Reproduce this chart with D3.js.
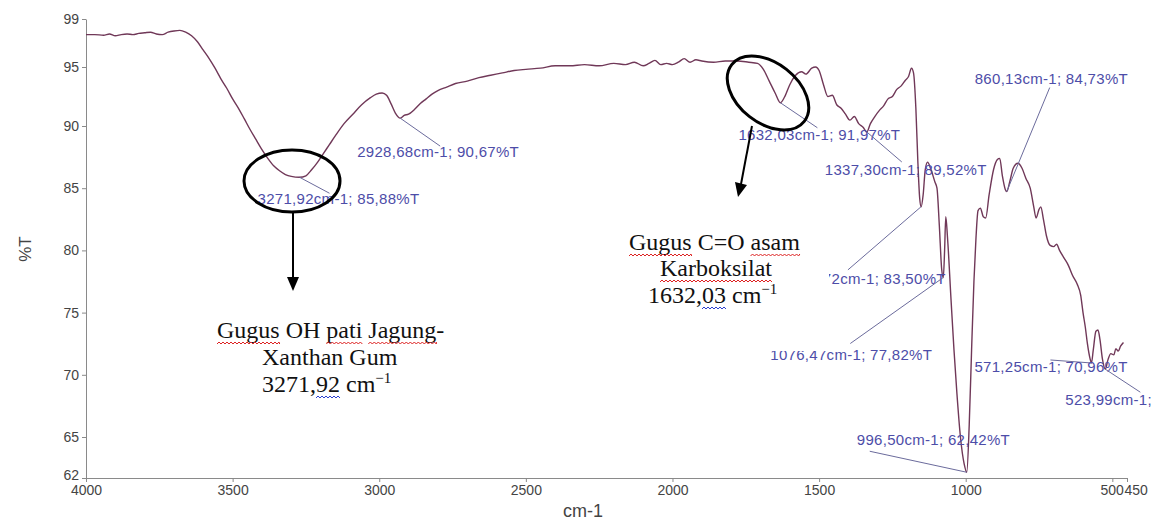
<!DOCTYPE html>
<html>
<head>
<meta charset="utf-8">
<script src="https://cdn.jsdelivr.net/npm/d3@7"></script>
<style>
  body { margin: 0; background: #fff; }
  text { font-family: "Liberation Sans", Arial, sans-serif; }
</style>
</head>
<body>
<div id="chart"></div>
<script>
// spectrum (cm-1, %T)
const wavenumber = [4000,3970,3940,3920,3900,3880,3860,3840,3820,3800,3780,3760,3740,3720,3700,3680,3660,3640,3620,3600,
  3580,3560,3540,3520,3500,3480,3460,3440,3420,3400,3380,3360,3340,3320,3300,3271.92,3250,3230,3210,3190,
  3170,3150,3120,3090,3060,3030,3010,2990,2975,2960,2945,2928.68,2915,2900,2880,2860,2840,2820,2800,2770,
  2740,2700,2660,2620,2580,2540,2500,2450,2400,2350,2300,2250,2200,2160,2130,2100,2080,2060,2040,2020,
  2000,1980,1960,1940,1920,1900,1860,1820,1780,1740,1710,1690,1670,1650,1632.03,1615,1600,1580,1560,1545,
  1525,1512,1500,1485,1470,1455,1440,1425,1410,1395,1380,1365,1350,1337.30,1325,1310,1295,1280,1265,1250,
  1235,1220,1205,1195,1185,1178,1170,1163,1157,1152,1145,1138,1130,1120,1105,1098,1090,1082,1076.47,1072,
  1068,1062,1050,1040,1030,1018,1005,996.50,988,980,972,965,958,950,940,932,920,905,892,884,
  875,865,860.13,850,838,822,808,795,780,768,760,750,744,735,725,712,700,690,680,665,
  650,636,620,608,600,592,585,576,571.25,565,556,549,542,534,523.99,515,505,495,488,480,
  472,462]
const transmittance = [97.7,97.7,97.65,97.75,97.6,97.7,97.75,97.7,97.8,97.85,97.9,97.75,97.7,97.9,98.0,98.05,97.9,97.6,97.1,96.4,
  95.7,94.9,94.0,93.2,92.3,91.5,90.6,89.7,88.9,88.1,87.4,86.8,86.4,86.1,85.95,85.88,86.0,86.5,87.1,87.8,
  88.5,89.2,90.2,91.0,91.8,92.4,92.7,92.8,92.6,91.9,91.1,90.67,90.9,91.0,91.4,91.9,92.3,92.7,93.0,93.3,
  93.6,93.8,94.1,94.3,94.5,94.7,94.8,94.9,95.1,95.1,95.2,95.1,95.3,95.2,95.4,95.1,95.3,95.55,95.2,95.3,
  95.2,95.4,95.7,95.4,95.6,95.5,95.4,95.5,95.5,95.4,95.3,94.8,93.8,92.8,91.97,92.6,93.5,94.3,94.6,94.4,
  94.9,95.0,94.7,93.5,92.5,92.6,91.8,91.5,91.0,90.5,90.8,90.2,89.9,89.52,90.2,90.8,91.3,91.7,92.3,92.5,
  93.1,93.4,93.9,94.2,94.9,94.5,91.5,87.0,84.2,83.5,84.5,86.5,87.1,86.6,85.5,85.0,82.0,78.5,77.82,80.0,
  82.7,81.0,76.0,72.0,68.5,65.0,63.0,62.42,66.0,72.0,77.5,81.0,83.2,83.4,82.7,82.6,84.5,86.5,87.3,87.4,
  86.0,84.9,84.73,85.5,86.6,87.0,86.6,85.8,85.0,83.5,82.6,83.3,83.5,82.5,81.2,80.4,80.3,80.5,80.0,79.4,
  78.8,78.0,77.3,76.4,75.0,73.8,72.5,71.3,70.95,72.0,73.5,73.6,72.8,71.3,70.45,71.2,71.7,71.6,72.1,71.9,
  72.3,72.6]

const xTicks = [4000, 3500, 3000, 2500, 2000, 1500, 1000, 500, 450]
const yTicks = [99, 95, 90, 85, 80, 75, 70, 65, 62]

// peak labels
const peakCm = [3271.92, 2928.68, 1632.03, 1337.30, 1152.72, 1076.47, 996.50, 860.13, 571.25, 523.99]
const peakT = [85.88, 90.67, 91.97, 89.52, 83.50, 77.82, 62.42, 84.73, 70.95, 70.45]
const peakText = ["3271,92cm-1; 85,88%T", "2928,68cm-1; 90,67%T", "1632,03cm-1; 91,97%T", "1337,30cm-1; 89,52%T",
  "1152,72cm-1; 83,50%T", "1076,47cm-1; 77,82%T", "996,50cm-1; 62,42%T", "860,13cm-1; 84,73%T",
  "571,25cm-1; 70,96%T", "523,99cm-1;"]

const W = 1154, H = 522
const svg = d3.select("#chart").append("svg")
  .attr("width", W)
  .attr("height", H)

const x = d3.scaleLinear().domain([4000, 450]).range([86, 1127])
// the printed axis is not quite even, so the scale follows its ticks
const y = d3.scaleLinear().domain([62, 65, 90, 95, 99]).range([478, 437, 126, 67, 19])

// axes
const xAxis = svg.append("g")
  .attr("transform", `translate(0,${y(62)})`)
  .call(d3.axisBottom(x).tickValues(xTicks).tickSize(4).tickSizeOuter(0).tickFormat(d3.format("d")))
const yAxis = svg.append("g")
  .attr("transform", `translate(${x(4000)},0)`)
  .call(d3.axisLeft(y).tickValues(yTicks).tickSize(4).tickSizeOuter(0))
svg.selectAll(".domain, .tick line").attr("stroke", "#8a8a8a")
svg.selectAll(".tick text").attr("fill", "#444").style("font-size", "14px")
xAxis.selectAll(".tick text").filter(d => d === 500).attr("text-anchor", "end").attr("x", 11)
xAxis.selectAll(".tick text").filter(d => d === 450).attr("text-anchor", "start").attr("x", -3)
yAxis.selectAll(".tick text").filter(d => d === 62).attr("y", -3)

svg.append("text")
  .attr("transform", "translate(31,249) rotate(-90)")
  .attr("text-anchor", "middle")
  .attr("fill", "#444")
  .style("font-size", "17px")
  .text("%T")
svg.append("text")
  .attr("x", 583).attr("y", 517)
  .attr("text-anchor", "middle")
  .attr("fill", "#444")
  .style("font-size", "18px")
  .text("cm-1")

// spectrum
const pts = wavenumber.map((w, i) => [w, transmittance[i]])
svg.append("path")
  .datum(pts)
  .attr("fill", "none")
  .attr("stroke", "#703858")
  .attr("stroke-width", 1.4)
  .attr("d", d3.line().x(d => x(d[0])).y(d => y(d[1])).curve(d3.curveMonotoneX))

// label offsets from the peak, px
const labelDx = [-42, -43, -42, -42, -136, -173, -110, -32, -117, -40]
const labelDy = [27, 39, 37, 43, 77, 82, -27, -108, 9, 36]
const lineEnd = [[30, 16], [40, 28], [37, 25], [35, 30], [-73, 63], [-93, 66], [-97, -21], [43, -104], [-41, -3], [35, 23]]
const labels = svg.append("g")
peakCm.forEach((w, i) => {
  const px = x(w), py = y(peakT[i])
  labels.append("line")
    .attr("x1", px).attr("y1", py)
    .attr("x2", px + lineEnd[i][0]).attr("y2", py + lineEnd[i][1])
    .attr("stroke", "#6b6b9c").attr("stroke-width", 1)
  labels.append("text")
    .attr("x", px + labelDx[i]).attr("y", py + labelDy[i])
    .attr("fill", "#4d4da8")
    .style("font-size", "15px")
    .style("letter-spacing", "0.3px")
    .text(peakText[i])
})

// white text box of the C=O callout hides part of two labels
svg.append("rect").attr("x", 600).attr("y", 222).attr("width", 229).attr("height", 129).attr("fill", "#fff")

// circles and arrows
const marks = svg.append("g").attr("fill", "none").attr("stroke", "#000").attr("stroke-width", 3)
marks.append("ellipse").attr("cx", 292).attr("cy", 181).attr("rx", 48).attr("ry", 31)
marks.append("ellipse").attr("cx", 768).attr("cy", 93).attr("rx", 46).attr("ry", 30)
  .attr("transform", "rotate(38,768,93)")
marks.append("line").attr("x1", 293).attr("y1", 212).attr("x2", 293).attr("y2", 278).attr("stroke-width", 2)
marks.append("line").attr("x1", 752).attr("y1", 126).attr("x2", 741).attr("y2", 184).attr("stroke-width", 2)
svg.append("path").attr("d", "M287,277 L299,277 L293,291 Z").attr("fill", "#000")
svg.append("path").attr("d", "M735,182 L747,185 L738,197 Z").attr("fill", "#000")

// callout texts with the spell-check squiggles
function callout(lines, xs, ys) {
  lines.forEach((ln, i) => {
    const t = svg.append("text")
      .attr("x", xs[i]).attr("y", ys[i])
      .attr("fill", "#111")
      .style("font-family", "'Liberation Serif', 'Times New Roman', serif")
      .style("font-size", "24px")
    t.append("tspan").text(ln.text)
    if (ln.sup) {
      t.append("tspan").text(" cm")
      t.append("tspan").attr("dy", -9).style("font-size", "15px").text("\u22121")
    }
    const node = t.node()
    ln.marks.forEach(m => {
      const start = ln.text.indexOf(m.word)
      const a = xs[i] + node.getSubStringLength(0, start)
      const b = a + node.getSubStringLength(start, m.word.length)
      let d = `M${a},${ys[i] + 6}`
      for (let k = a, up = true; k < b; k += 2, up = !up) d += ` L${Math.min(k + 2, b)},${ys[i] + (up ? 4 : 6)}`
      svg.append("path").attr("d", d).attr("fill", "none").attr("stroke", m.c).attr("stroke-width", 1)
    })
  })
}
callout([
  { text: "Gugus OH pati Jagung-", marks: [{ word: "Gugus", c: "#d22" }, { word: "pati", c: "#d22" }, { word: "Jagung", c: "#d22" }] },
  { text: "Xanthan Gum", marks: [] },
  { text: "3271,92", sup: true, marks: [{ word: "92", c: "#2a3fd0" }] }
], [217, 262, 262], [338, 365, 392])
callout([
  { text: "Gugus C=O asam", marks: [{ word: "Gugus", c: "#d22" }, { word: "asam", c: "#d22" }] },
  { text: "Karboksilat", marks: [{ word: "Karboksilat", c: "#d22" }] },
  { text: "1632,03", sup: true, marks: [{ word: "03", c: "#2a3fd0" }] }
], [629, 660, 648], [250, 276, 303])
</script>
</body>
</html>
